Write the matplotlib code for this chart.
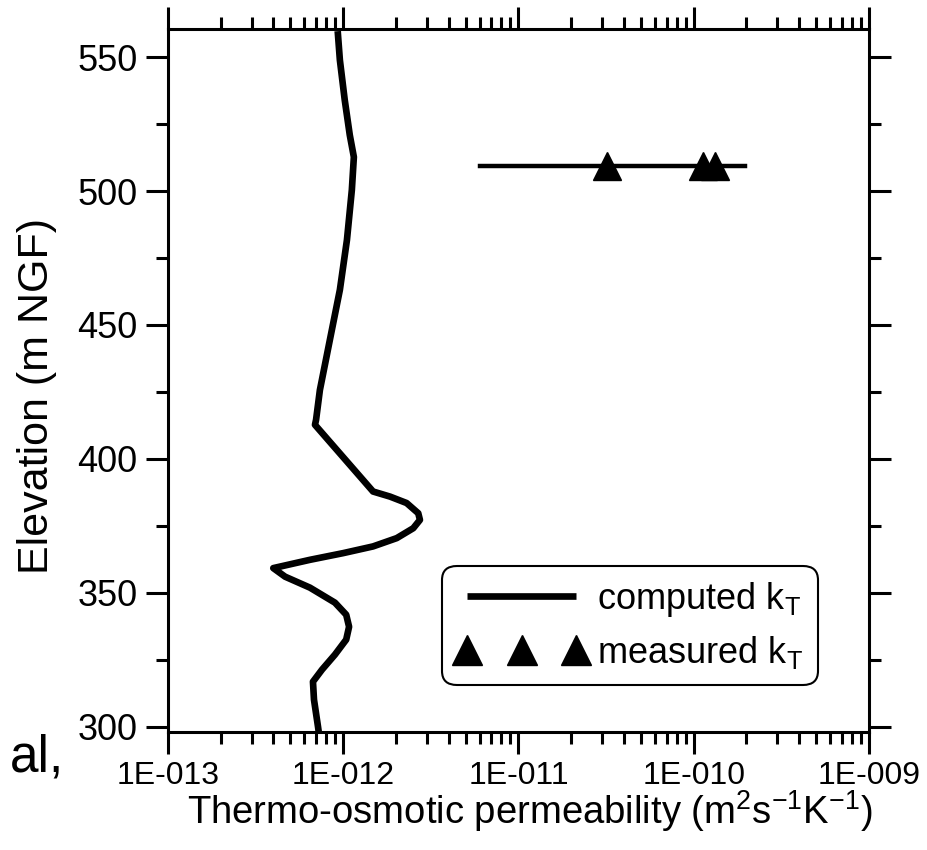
import numpy as np
import matplotlib.pyplot as plt
from matplotlib.ticker import LogLocator, FixedLocator, NullFormatter

plt.rcParams['font.family'] = ['Liberation Sans', 'DejaVu Sans']

# computed thermo-osmotic permeability profile (m2 s-1 K-1) vs elevation (m NGF)
kt_computed = [9.3e-13, 9.57e-13, 1.02e-12, 1.09e-12, 1.15e-12, 1.12e-12, 1.05e-12,
               9.57e-13, 8.39e-13, 7.36e-13, 7.0e-13, 6.9e-13, 1.48e-12, 1.85e-12,
               2.30e-12, 2.68e-12, 2.74e-12, 2.51e-12, 2.02e-12, 1.48e-12, 1.00e-12,
               6.46e-13, 3.99e-13, 4.66e-13, 6.46e-13, 8.97e-13, 1.04e-12, 1.08e-12,
               1.04e-12, 8.97e-13, 7.57e-13, 6.72e-13, 6.81e-13, 7.18e-13, 7.25e-13]
elev_computed = [559.7, 548.9, 534.0, 520.9, 512.7, 500.4, 481.7,
                 463.1, 444.4, 425.7, 414.6, 412.7, 387.8, 385.9,
                 383.5, 379.7, 377.2, 374.1, 370.4, 367.3, 364.8,
                 362.3, 359.2, 356.0, 351.9, 346.3, 341.8, 337.3,
                 332.5, 326.9, 321.3, 316.8, 310.1, 300.0, 298.0]

# measured values and their range
kt_measured = [3.2e-11, 1.13e-10, 1.32e-10]
elev_measured = [509.3, 509.3, 509.3]
kt_range = [6.0e-12, 1.96e-10]
elev_range = [509.3, 509.3]

fig = plt.figure(figsize=(9.27, 8.5), dpi=100)
ax = fig.add_axes([0.1812, 0.1388, 0.7562, 0.8271])

ax.plot(kt_computed, elev_computed, color='black', lw=4.8, solid_joinstyle='round',
        solid_capstyle='butt', label=r'computed k$_\mathregular{T}$')
ax.plot(kt_range, elev_range, color='black', lw=3.2)
ax.plot(kt_measured, elev_measured, ls='none', marker='^', color='black', ms=20,
        label=r'measured k$_\mathregular{T}$')

ax.set_xscale('log')
ax.set_xlim(1e-13, 1e-9)
ax.set_ylim(298, 560.5)

ax.xaxis.set_minor_locator(LogLocator(base=10, subs=np.arange(2, 10), numticks=10))
ax.xaxis.set_minor_formatter(NullFormatter())
ax.set_xticks([1e-13, 1e-12, 1e-11, 1e-10, 1e-9])
ax.set_xticklabels(['1E-013', '1E-012', '1E-011', '1E-010', '1E-009'])
ax.yaxis.set_major_locator(FixedLocator([300, 350, 400, 450, 500, 550]))
ax.yaxis.set_minor_locator(FixedLocator([325, 375, 425, 475, 525]))

ax.tick_params(which='both', direction='out', width=2.2,
               top=True, right=True, bottom=True, left=True)
ax.tick_params(which='major', length=16, pad=6)
ax.tick_params(axis='x', which='major', pad=5)
ax.tick_params(which='minor', length=8.5)
ax.tick_params(axis='x', labelsize=23)
ax.tick_params(axis='y', labelsize=26)
for s in ax.spines.values():
    s.set_linewidth(2.2)

ax.set_xlabel(r'Thermo-osmotic permeability (m$^\mathregular{2}$s$^\mathregular{-1}$K$^\mathregular{-1}$)',
              fontsize=27.5, va='center')
ax.xaxis.set_label_coords(0.516, -0.113)
ax.set_ylabel('Elevation (m NGF)', fontsize=31)
ax.yaxis.set_label_coords(-0.158, 0.478)

leg = ax.legend(loc='lower right', bbox_to_anchor=(0.922, 0.072), borderaxespad=0,
                numpoints=3, markerscale=1.08, fontsize=26, handlelength=3.6,
                handletextpad=0.3, borderpad=0.3, labelspacing=0.4,
                frameon=True, framealpha=1)
leg.get_frame().set_edgecolor('black')
leg.get_frame().set_linewidth(1.5)
leg.get_frame().set_boxstyle('round,pad=0.1,rounding_size=0.4')

fig.text(0.011, 0.0918, 'al,', fontsize=37, ha='left', va='baseline')

plt.savefig('out.png', dpi=100)
